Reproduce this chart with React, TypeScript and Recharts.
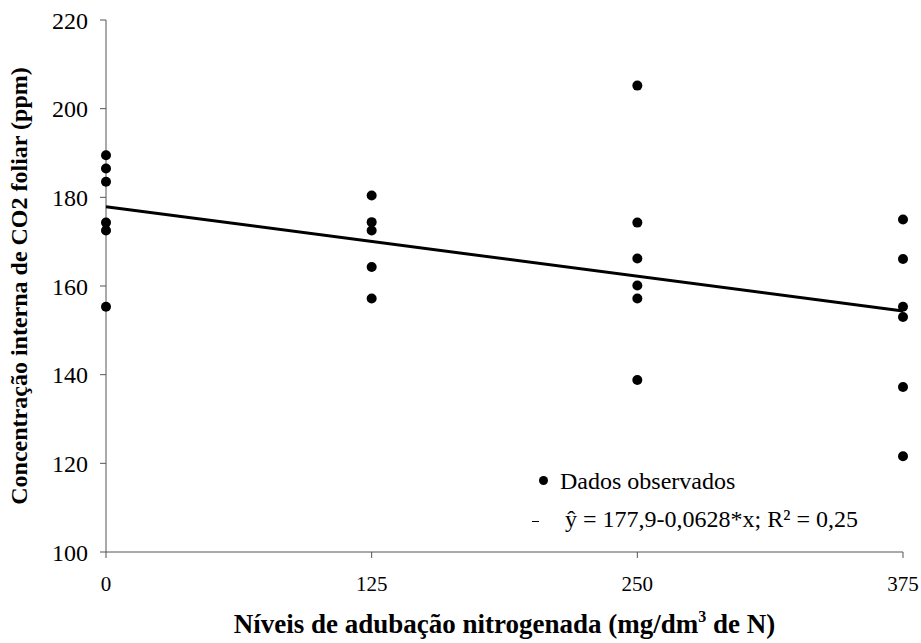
import React from 'react';
import { ScatterChart, Scatter, XAxis, YAxis, Legend } from 'recharts';

// Nitrogen levels (mg/dm3 de N)
const nLevels = [0, 125, 250, 375];
// Observed values at each level (ppm)
const obsN0 = [189.5, 186.5, 183.5, 174.3, 172.5, 155.3];
const obsN125 = [180.4, 174.4, 172.5, 164.3, 157.2];
const obsN250 = [205.2, 174.3, 166.2, 160.1, 157.2, 138.8];
const obsN375 = [175.0, 166.1, 155.3, 153.0, 137.2, 121.6];
// Fitted regression line endpoints (ŷ = 177,9 - 0,0628x)
const fitX = [0, 375];
const fitY = [177.9, 154.35];
const yTicks = [100, 120, 140, 160, 180, 200, 220];

const legendObs = 'Dados observados';
const legendFit = 'ŷ = 177,9-0,0628*x; R² = 0,25';

const groups = [obsN0, obsN125, obsN250, obsN375];
const obsData = groups.flatMap((vals, i) => vals.map((v) => ({ x: nLevels[i], y: v })));
const fitData = fitX.map((x, i) => ({ x, y: fitY[i] }));

const FONT = 'Liberation Serif, Times New Roman, Tinos, Nimbus Roman, DejaVu Serif, serif';

const Dot = (props: any) => <circle cx={props.cx} cy={props.cy} r={5} fill="#000" />;
const NoDot = () => <g />;

const XTitle = (props: any) => {
  const vb = props.viewBox || { x: 106, y: 552, width: 797, height: 91 };
  const cx = vb.x + vb.width / 2;
  const cy = vb.y + 81;
  return (
    <text x={cx} y={cy} textAnchor="middle" style={{ fontFamily: FONT }} fontWeight="bold" fontSize={27} fill="#000">
      Níveis de adubação nitrogenada (mg/dm
      <tspan fontSize={16} dy={-11}>3</tspan>
      <tspan dy={11}> de N)</tspan>
    </text>
  );
};

const YTitle = (props: any) => {
  const vb = props.viewBox || { x: 0, y: 20, width: 106, height: 532 };
  const cx = 19;
  const cy = vb.y + vb.height / 2;
  return (
    <text
      x={cx}
      y={cy}
      transform={`rotate(-90 ${cx} ${cy})`}
      textAnchor="middle"
      dominantBaseline="central"
      style={{ fontFamily: FONT }}
      fontWeight="bold"
      fontSize={24}
      fill="#000"
    >
      Concentração interna de CO2 foliar (ppm)
    </text>
  );
};

const LegendBox = () => (
  <div style={{ position: 'relative', width: 380, height: 76, fontFamily: FONT, fontSize: 24, color: '#000' }}>
    <div style={{ position: 'absolute', left: 0, top: 0, height: 37, lineHeight: '37px', width: 380 }}>
      <span style={{ position: 'absolute', left: 11, top: 13, width: 9, height: 9, borderRadius: '50%', background: '#000' }} />
      <span style={{ position: 'absolute', left: 32, top: 0, whiteSpace: 'nowrap' }}>{legendObs}</span>
    </div>
    <div style={{ position: 'absolute', left: 0, top: 38, height: 37, lineHeight: '37px', width: 380 }}>
      <span style={{ position: 'absolute', left: 4, top: 20, width: 7, height: 0, borderTop: '1.5px solid #000' }} />
      <span style={{ position: 'absolute', left: 37, top: 0, whiteSpace: 'nowrap' }}>{legendFit}</span>
    </div>
  </div>
);

export default function App() {
  return (
    <div style={{ width: 921, height: 643, background: '#fff', fontFamily: FONT }}>
      <style>{'html,body{margin:0;padding:0;overflow:hidden;background:#fff}'}</style>
      <ScatterChart width={921} height={643} margin={{ top: 20, right: 18, bottom: 0, left: 0 }}>
        <XAxis
          type="number"
          dataKey="x"
          domain={[0, 375]}
          ticks={nLevels}
          height={91}
          tickSize={6}
          tickMargin={18}
          axisLine={{ stroke: '#555' }}
          tickLine={{ stroke: '#555' }}
          tick={{ fill: '#000', fontSize: 21, style: { fontFamily: FONT } }}
          label={<XTitle />}
        />
        <YAxis
          type="number"
          dataKey="y"
          domain={[100, 220]}
          ticks={yTicks}
          width={106}
          tickSize={6}
          tickMargin={12}
          axisLine={{ stroke: '#555' }}
          tickLine={{ stroke: '#555' }}
          tick={{ fill: '#000', fontSize: 24, style: { fontFamily: FONT } }}
          label={<YTitle />}
        />
        <Scatter data={fitData} line={{ stroke: '#000', strokeWidth: 3 }} shape={NoDot} isAnimationActive={false} legendType="none" />
        <Scatter data={obsData} fill="#000" shape={Dot} isAnimationActive={false} />
        <Legend
          layout="vertical"
          align="center"
          verticalAlign="middle"
          content={LegendBox}
          wrapperStyle={{ position: 'absolute', left: 528, top: 463, width: 380, height: 76 }}
        />
      </ScatterChart>
    </div>
  );
}
